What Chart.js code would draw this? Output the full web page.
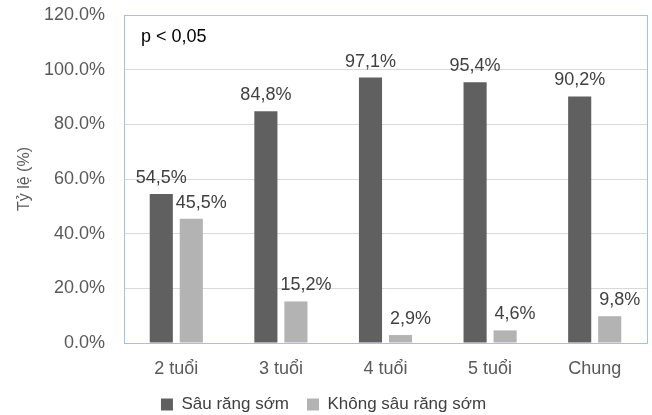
<!DOCTYPE html>
<html>
<head>
<meta charset="utf-8">
<script src="https://cdn.jsdelivr.net/npm/chart.js@4/dist/chart.umd.min.js"></script>
<style>
  html, body { margin: 0; padding: 0; background: #fff; }
  #wrap { width: 652px; height: 415px; }
</style>
</head>
<body>
<div id="wrap"><canvas id="chart"></canvas></div>
<script>
// Data
const categories = ['2 tuổi', '3 tuổi', '4 tuổi', '5 tuổi', 'Chung']
const sauRang = [54.5, 84.8, 97.1, 95.4, 90.2]
const khongSauRang = [45.5, 15.2, 2.9, 4.6, 9.8]
const seriesNames = ['Sâu răng sớm', 'Không sâu răng sớm']
const yTicks = [0, 20, 40, 60, 80, 100, 120]
const note = 'p < 0,05'

const FONT = "'Liberation Sans', Arial, sans-serif"

// value labels above the bars, Vietnamese decimal comma
const barLabels = {
  id: 'barLabels',
  afterDatasetsDraw(chart) {
    const ctx = chart.ctx
    ctx.save()
    ctx.font = '18px ' + FONT
    ctx.fillStyle = '#404040'
    ctx.textAlign = 'center'
    ctx.textBaseline = 'alphabetic'
    chart.data.datasets.forEach((ds, i) => {
      const dx = i === 0 ? 0 : 10
      chart.getDatasetMeta(i).data.forEach((bar, j) => {
        const txt = ds.data[j].toFixed(1).replace('.', ',') + '%'
        ctx.fillText(txt, bar.x + dx, bar.y - 11)
      })
    })
    ctx.restore()
  }
}

// plot area frame + note text
const plotFrame = {
  id: 'plotFrame',
  beforeDatasetsDraw(chart) {
    const a = chart.chartArea
    const ctx = chart.ctx
    ctx.save()
    ctx.strokeStyle = '#9dc3e6'
    ctx.lineWidth = 1
    ctx.strokeRect(Math.round(a.left) + 0.5, Math.round(a.top) + 0.5,
      Math.round(a.right - a.left), Math.round(a.bottom - a.top))
    ctx.font = '18px ' + FONT
    ctx.fillStyle = '#000'
    ctx.textAlign = 'left'
    ctx.textBaseline = 'middle'
    ctx.fillText(note, a.left + 17, a.top + 22)
    ctx.restore()
  }
}

const ctx = document.getElementById('chart').getContext('2d')
new Chart(ctx, {
  type: 'bar',
  data: {
    labels: categories,
    datasets: [
      {
        label: seriesNames[0],
        data: sauRang,
        backgroundColor: '#5f605f',
        categoryPercentage: 0.574,
        barPercentage: 0.77,
      },
      {
        label: seriesNames[1],
        data: khongSauRang,
        backgroundColor: '#b3b3b3',
        categoryPercentage: 0.574,
        barPercentage: 0.77,
      },
    ],
  },
  options: {
    responsive: true,
    maintainAspectRatio: false,
    animation: false,
    layout: {
      padding: { top: 15, right: 5, left: 0, bottom: -8 },
    },
    scales: {
      x: {
        grid: { display: false },
        border: { display: false },
        ticks: {
          color: '#595959',
          font: { family: FONT, size: 18 },
          padding: 7,
        },
        afterFit: (scale) => { scale.height = 35 },
      },
      y: {
        min: 0,
        max: 120,
        afterBuildTicks: (scale) => {
          scale.ticks = yTicks.map((v) => ({ value: v }))
        },
        ticks: {
          color: '#595959',
          font: { family: FONT, size: 18 },
          padding: 19,
          callback: (value) => value.toFixed(1) + '%',
        },
        grid: {
          color: '#d9d9d9',
          drawTicks: false,
        },
        border: { display: false },
        title: {
          display: true,
          text: 'Tỷ lệ (%)',
          color: '#595959',
          font: { family: FONT, size: 16 },
          padding: { top: 15, bottom: 0 },
        },
        afterFit: (scale) => {
          scale.width = 124
          scale.paddingTop = 10
          scale.paddingBottom = 10
        },
      },
    },
    plugins: {
      legend: {
        position: 'bottom',
        labels: {
          color: '#404040',
          font: { family: FONT, size: 17 },
          boxWidth: 12,
          boxHeight: 12,
          padding: 18,
        },
      },
      tooltip: { enabled: false },
    },
  },
  plugins: [plotFrame, barLabels],
})
</script>
</body>
</html>
